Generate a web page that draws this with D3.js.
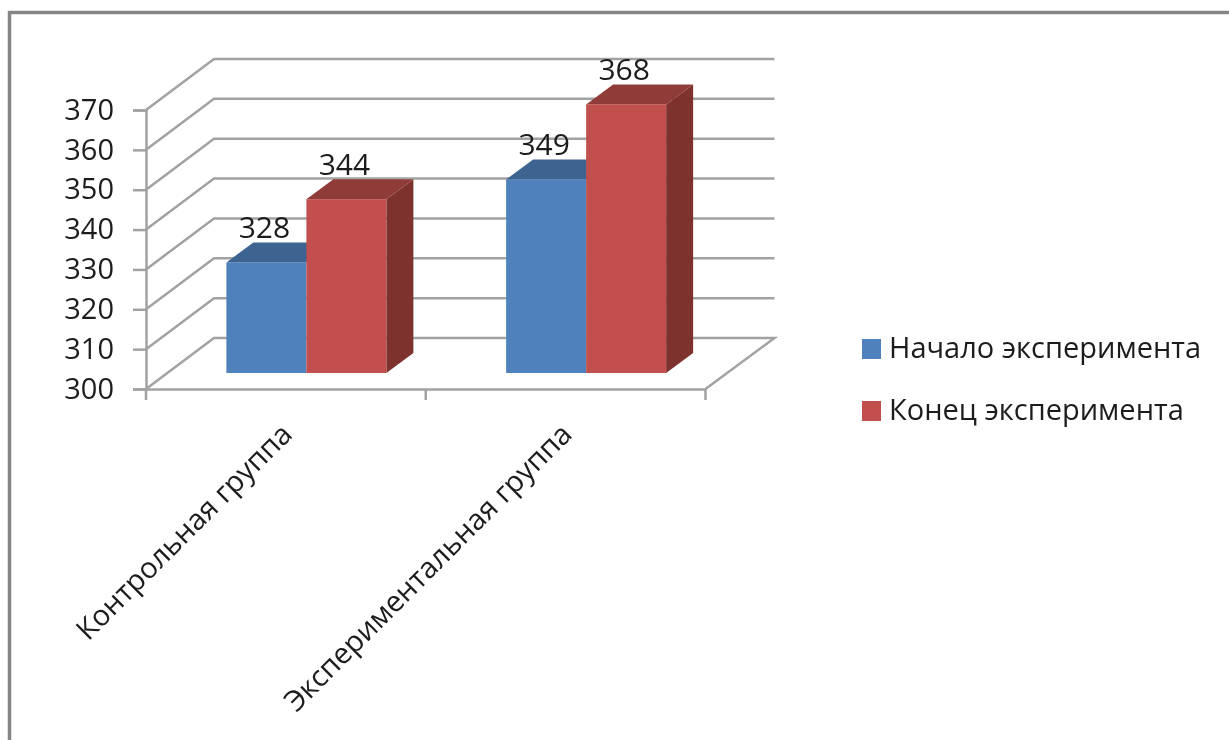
<!DOCTYPE html>
<html>
<head>
<meta charset="utf-8">
<script src="https://cdn.jsdelivr.net/npm/d3@7"></script>
<style>
  html, body { margin: 0; padding: 0; background: #fff; }
  svg { display: block; }
  text { font-family: "Open Sans", "Noto Sans", sans-serif; fill: #1c1c1c; }
</style>
</head>
<body>
<svg width="1229" height="740"></svg>
<script>
const categories = ["Контрольная группа", "Экспериментальная группа"]
const seriesNames = ["Начало эксперимента", "Конец эксперимента"]
const startValues = [328, 349]
const endValues = [344, 368]
const yTicks = [300, 310, 320, 330, 340, 350, 360, 370]

const seriesColors = [
  { front: "#4f81bd", top: "#3d6390" },
  { front: "#c0504d", top: "#8f3a38", side: "#7d302e" }
]
const GRID = "#a2a2a2"
const FRAME = "#868686"

// wall depth and bar depth in the oblique projection
const DEPTH_X = 68, DEPTH_Y = 51
const BAR_DX = 27, BAR_DY = 20
const FRONT_DX = 20.5

const svg = d3.select("svg")

// the source is a blurry screenshot, soften everything a little
svg.append("filter").attr("id", "soft")
  .attr("filterUnits", "userSpaceOnUse")
  .attr("x", 0).attr("y", 0)
  .attr("width", 1229).attr("height", 740)
  .append("feGaussianBlur").attr("stdDeviation", 0.6)

const y = d3.scaleLinear().domain([300, 370]).range([389, 110])
// bars stand on the floor a bit behind the front edge, so slightly shorter units
const yBar = d3.scaleLinear().domain([300, 370]).range([373, 96.5])
const x = d3.scaleBand().domain(categories).range([146, 705.5])
const xs = d3.scaleBand().domain(seriesNames).range([0, 160])

const line = d3.line()

const root = svg.append("g").attr("filter", "url(#soft)")

// frame
root.append("path")
  .attr("d", line([[9.5, 740], [9.5, 12.5], [1229, 12.5]]))
  .attr("fill", "none").attr("stroke", FRAME).attr("stroke-width", 3.5)

const plot = root.append("g")

// grid lines run along the side wall, then across the back wall
plot.selectAll("path.grid")
  .data(yTicks.slice(1))
  .enter().append("path")
  .attr("class", "grid")
  .attr("d", d => line([[x.range()[0], y(d)], [x.range()[0] + DEPTH_X, y(d) - DEPTH_Y], [x.range()[1] + DEPTH_X + 1, y(d) - DEPTH_Y]]))
  .attr("fill", "none").attr("stroke", GRID).attr("stroke-width", 2.5)

// floor
plot.append("path")
  .attr("d", line([
    [x.range()[0], y(300)],
    [x.range()[0] + DEPTH_X, y(300) - DEPTH_Y],
    [x.range()[1] + DEPTH_X + 1, y(300) - DEPTH_Y],
    [x.range()[1], y(300)]
  ]))
  .attr("fill", "none").attr("stroke", GRID).attr("stroke-width", 2.5)

// axes
const yAxis = d3.axisLeft(y).tickValues(yTicks).tickSize(13).tickPadding(19)
const yG = plot.append("g").attr("transform", "translate(146,0)").call(yAxis)
yG.selectAll("text").attr("font-size", 29)

const xAxis = d3.axisBottom(x).tickValues([]).tickSizeOuter(0)
const xG = plot.append("g").attr("transform", "translate(0,389)").call(xAxis)
xG.selectAll("path.tick-edge")
  .data(d3.range(categories.length + 1))
  .enter().append("path")
  .attr("class", "tick-edge")
  .attr("d", i => line([[x.range()[0] + i * x.step(), 0], [x.range()[0] + i * x.step(), 11]]))

plot.selectAll(".domain, .tick line, .tick-edge")
  .attr("stroke", GRID).attr("stroke-width", 2.5)

// category labels, rotated
plot.selectAll("text.cat")
  .data(categories)
  .enter().append("text")
  .attr("class", "cat")
  .attr("font-size", 29)
  .attr("text-anchor", "end")
  .attr("transform", d => `translate(${x(d) + x.bandwidth() / 2 + 8},${y(300) + 47}) rotate(-45)`)
  .text(d => d)

// bars, drawn series by series so the red one overlaps the blue top
const rows = [startValues, endValues]
rows.forEach((values, s) => {
  const c = seriesColors[s]
  const name = seriesNames[s]
  const g = plot.append("g")

  values.forEach((v, i) => {
    const cat = categories[i]
    const x0 = x(cat) + FRONT_DX + (x.bandwidth() - xs.range()[1]) / 2 + xs(name)
    const x1 = x0 + xs.bandwidth()
    const top = yBar(v)
    const bottom = yBar(300)

    if (c.side) {
      g.append("path")
        .attr("d", line([[x1, top], [x1 + BAR_DX, top - BAR_DY], [x1 + BAR_DX, bottom - BAR_DY], [x1, bottom]]) + "Z")
        .attr("fill", c.side)
    }
    g.append("path")
      .attr("d", line([[x0, top], [x0 + BAR_DX, top - BAR_DY], [x1 + BAR_DX, top - BAR_DY], [x1, top]]) + "Z")
      .attr("fill", c.top)
    g.append("rect")
      .attr("x", x0).attr("y", top)
      .attr("width", x1 - x0).attr("height", bottom - top)
      .attr("fill", c.front)
    g.append("text")
      .attr("x", (x0 + x1) / 2 - 2).attr("y", top - 24)
      .attr("text-anchor", "middle")
      .attr("font-size", 30)
      .text(v)
  })
})

// legend
const legend = root.selectAll("g.legend")
  .data(seriesNames)
  .enter().append("g")
  .attr("class", "legend")
  .attr("transform", (d, i) => `translate(862,${339 + i * 62})`)
legend.append("rect")
  .attr("width", 19).attr("height", 20)
  .attr("fill", (d, i) => seriesColors[i].front)
legend.append("text")
  .attr("x", 27).attr("y", 19)
  .attr("font-size", 29)
  .text(d => d)
</script>
</body>
</html>
